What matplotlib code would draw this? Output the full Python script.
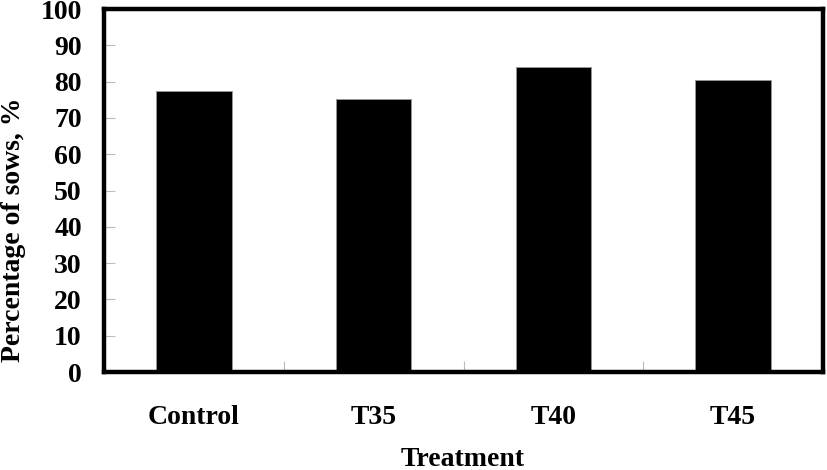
import matplotlib.pyplot as plt

treatments = ['Control', 'T35', 'T40', 'T45']
sows_pct = [77.3, 75.3, 83.9, 80.4]
y_ticks = list(range(0, 101, 10))

plt.rcParams['font.family'] = ['Liberation Serif', 'DejaVu Serif']
plt.rcParams['font.weight'] = 'bold'

fig = plt.figure(figsize=(8.27, 4.70), dpi=100)
ax = fig.add_axes([104 / 827, 1 - 372 / 470, 719 / 827, 363 / 470])

pos = [i + 0.5 for i in range(len(treatments))]
ax.bar(pos, sows_pct, width=0.42, color='black', edgecolor='#999999', linewidth=0.6)

ax.set_xlim(0, 4)
ax.set_ylim(0, 100)
ax.set_yticks(y_ticks)
ax.set_yticklabels([str(v) for v in y_ticks], fontsize=20, fontweight='bold')
ax.set_xticks([1, 2, 3])
ax.set_xticklabels([])
ax.set_xticks(pos, minor=True)
ax.set_xticklabels(treatments, minor=True, fontsize=20, fontweight='bold')
ax.tick_params(axis='x', which='minor', length=0, pad=24)
ax.tick_params(axis='both', which='major', direction='in', length=8, width=0.8,
               color='#bbbbbb')
ax.tick_params(axis='y', which='major', pad=16)

for s in ax.spines.values():
    s.set_linewidth(3.2)
    s.set_color('black')

fig.text(463 / 827, 1 - 459 / 470, 'Treatment', fontsize=20, fontweight='bold',
         ha='center', va='center')
fig.text(14 / 827, 1 - 230 / 470, 'Percentage of sows, %', fontsize=20,
         fontweight='bold', ha='center', va='center', rotation=90)

fig.savefig('out.png', dpi=100)
